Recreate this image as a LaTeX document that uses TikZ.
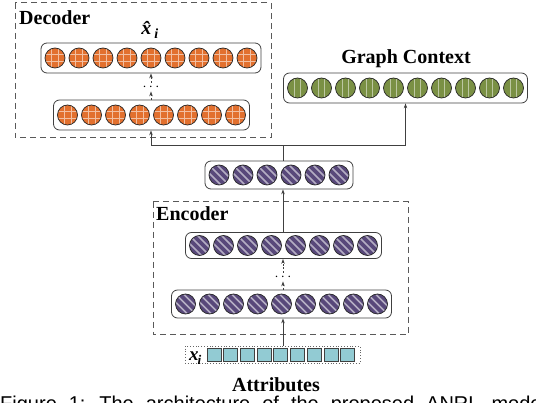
\documentclass[tikz,border=0pt]{standalone}
\usepackage{fontspec}
\setmainfont{Liberation Serif}
\newfontfamily\capfont{Liberation Sans}
\usetikzlibrary{arrows.meta}

\definecolor{decorange}{RGB}{226,112,46}
\definecolor{encpurple}{RGB}{88,72,122}
\definecolor{ctxgreen}{RGB}{122,144,68}
\definecolor{attrblue}{RGB}{146,203,211}

\tikzset{
  layer/.style={draw=black!75, line width=0.8pt, rounded corners=6pt, minimum height=29pt, inner sep=0pt},
  unitline/.style={draw=black!85, line width=0.7pt},
  boxline/.style={draw=black!65, line width=1pt, dash pattern=on 6pt off 4pt},
  flow/.style={draw=black!75, line width=0.7pt, -{Stealth[length=5pt,width=3.5pt]}},
  dflow/.style={flow, dash pattern=on 2pt off 1.5pt},
  title/.style={font=\fontsize{20}{22}\selectfont\bfseries, inner sep=0pt},
  dots/.style={font=\fontsize{14}{14}\selectfont, inner sep=1pt},
}

% one unit of a layer, centre (#1,#2)
\newcommand{\gridunit}[2]{%
  \fill[decorange] (#1,#2) circle (10pt);
  \begin{scope}
    \clip (#1,#2) circle (10pt);
    \draw[white!55!decorange, line width=0.5pt]
      (#1-3.5,#2-11) -- (#1-3.5,#2+11) (#1+3.5,#2-11) -- (#1+3.5,#2+11)
      (#1-11,#2-3.5) -- (#1+11,#2-3.5) (#1-11,#2+3.5) -- (#1+11,#2+3.5);
  \end{scope}
  \draw[unitline] (#1,#2) circle (10pt);}
\newcommand{\stripeunit}[2]{%
  \fill[encpurple] (#1,#2) circle (10pt);
  \begin{scope}
    \clip (#1,#2) circle (10pt);
    \foreach \s in {-16,-8,0,8,16}
      \draw[white!55!encpurple, line width=1.5pt] (#1-12+\s,#2-12) -- (#1+12+\s,#2+12);
  \end{scope}
  \draw[unitline] (#1,#2) circle (10pt);}
\newcommand{\barunit}[2]{%
  \fill[ctxgreen] (#1,#2) circle (10pt);
  \draw[white!50!ctxgreen, line width=0.7pt] (#1-3,#2-9.5) -- (#1-3,#2+9.5) (#1+3,#2-9.5) -- (#1+3,#2+9.5);
  \draw[unitline] (#1,#2) circle (10pt);}
% a row of #4 units centred at (#2,#3)
\newcommand{\unitrow}[4]{%
  \foreach \k in {1,...,#4} {\pgfmathsetmacro\cx{#2+24*(\k-(#4+1)/2)} #1{\cx}{#3}}}

\begin{document}
\begin{tikzpicture}[x=1pt,y=-1pt]
  \useasboundingbox (0,0) rectangle (536,403);
  \clip (0,0) rectangle (536,403);

  % frames
  \draw[boxline] (15,3) rectangle (271,138);
  \draw[boxline] (153,202) rectangle (408,335);
  \node[title, anchor=base west] (declabel) at (19,25) {Decoder};
  \node[title, anchor=base west] (enclabel) at (156,221) {Encoder};

  % layers
  \node[layer, minimum width=220pt, minimum height=30pt] (dectop) at (151,58) {};
  \node[layer, minimum width=196pt, minimum height=30pt] (declow) at (151.5,115) {};
  \node[layer, minimum width=244pt, minimum height=30pt] (ctxbar) at (405.5,88) {};
  \node[layer, minimum width=148pt, minimum height=28pt] (midbar) at (279,175) {};
  \node[layer, minimum width=196pt, minimum height=26pt] (enctop) at (283.5,245.5) {};
  \node[layer, minimum width=220pt, minimum height=28pt] (enclow) at (281.5,304) {};
  \unitrow{\gridunit}{151}{58}{9}
  \unitrow{\gridunit}{151.5}{115}{8}
  \unitrow{\barunit}{405.5}{88}{10}
  \unitrow{\stripeunit}{279}{175}{6}
  \unitrow{\stripeunit}{283.5}{245.5}{8}
  \unitrow{\stripeunit}{281.5}{304}{9}

  \node[title, anchor=base] (xhat) at (150,35) {\textit{\^x}\kern-1.5pt\textsubscript{\textit{i}}};
  \node[title, anchor=base] (ctxlabel) at (406,64) {Graph Context};

  % input
  \node[draw=black!60, dotted, line width=0.8pt, minimum width=175pt, minimum height=17pt, inner sep=0pt] (attrib) at (272.5,354.5) {};
  \node[font=\fontsize{19}{20}\selectfont\bfseries\itshape, anchor=base, inner sep=0pt] (xin) at (195.5,361) {x\kern-1pt\textsubscript{i}};
  \foreach \k in {0,...,8}
    \draw[fill=attrblue, draw=black!75, line width=0.8pt] (207+16.7*\k,348.5) rectangle ++(14,12.5);
  \node[title, anchor=base] (attrlabel) at (276,392) {Attributes};
  \node[anchor=base west, inner sep=0pt, font=\capfont\fontsize{20}{22}\selectfont] (caption) at (0,411)
    {\spaceskip=12pt Figure 1: The architecture of the proposed ANRL model};

  % connections
  \node[dots] (decdots) at (151,87) {$\cdots$};
  \node[dots] (encdots) at (283,277) {$\cdots$};
  \coordinate (spine) at (283,0);
  \coordinate (split) at (283,145);
  \draw[flow] (attrib.north -| spine) -- (enclow.south -| spine);
  \draw[dflow] (enclow.north -| encdots) -- (encdots.south);
  \draw[dflow] (encdots.north) -- (enctop.south -| encdots);
  \draw[flow] (enctop.north -| spine) -- (midbar.south -| spine);
  \draw[flow] (midbar.north -| spine) -- (split) -| (declow.south -| decdots);
  \draw[flow] (split) -| (ctxbar.south);
  \draw[dflow] (declow.north -| decdots) -- (decdots.south);
  \draw[dflow] (decdots.north) -- (dectop.south -| decdots);
\end{tikzpicture}
\end{document}
